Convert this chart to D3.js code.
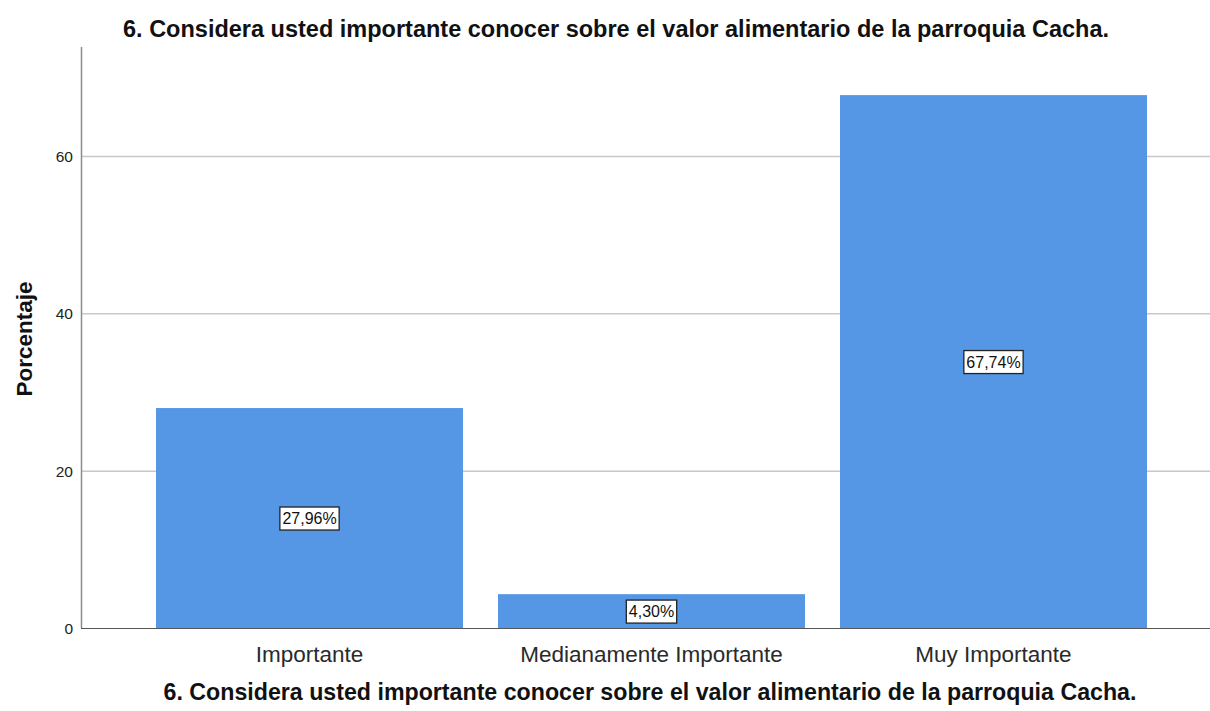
<!DOCTYPE html>
<html>
<head>
<meta charset="utf-8">
<script src="https://cdn.jsdelivr.net/npm/d3@7"></script>
<style>
  body { margin: 0; background: #fff; }
  text { font-family: "Liberation Sans", Arial, sans-serif; }
</style>
</head>
<body>
<div id="chart"></div>
<script>
// Data
var categories = ["Importante", "Medianamente Importante", "Muy Importante"];
var percents = [27.96, 4.30, 67.74];
var percentLabels = ["27,96%", "4,30%", "67,74%"];
var yTicks = [0, 20, 40, 60];
var chartTitle = "6. Considera usted importante conocer sobre el valor alimentario de la parroquia Cacha.";

var width = 1210, height = 711;
var axisX = 81, baseY = 628, topY = 47;

var svg = d3.select("#chart").append("svg")
  .attr("width", width)
  .attr("height", height);

var y = d3.scaleLinear()
  .domain([0, 60])
  .range([baseY, 156]);

var x = d3.scaleBand()
  .domain(categories)
  .range([138.5, 1164.5])
  .paddingInner(0.1023)
  .paddingOuter(0.0512);

// gridlines
svg.append("g")
  .selectAll("line")
  .data(yTicks.filter(function(d) { return d > 0; }))
  .enter()
  .append("line")
  .attr("x1", axisX)
  .attr("x2", width)
  .attr("y1", function(d) { return y(d) + 0.5; })
  .attr("y2", function(d) { return y(d) + 0.5; })
  .attr("stroke", "#c8c8c8")
  .attr("stroke-width", 1.5);

// bars
var data = categories.map(function(c, i) {
  return { cat: c, value: percents[i], label: percentLabels[i] };
});

svg.append("g")
  .selectAll("rect")
  .data(data)
  .enter()
  .append("rect")
  .attr("x", function(d) { return x(d.cat); })
  .attr("y", function(d) { return y(d.value); })
  .attr("width", x.bandwidth())
  .attr("height", function(d) { return baseY - y(d.value); })
  .attr("fill", "#5596e5");

// y axis line
svg.append("line")
  .attr("x1", axisX + 0.5).attr("x2", axisX + 0.5)
  .attr("y1", topY).attr("y2", baseY)
  .attr("stroke", "#8c8c8c")
  .attr("stroke-width", 1.5);

// baseline
svg.append("line")
  .attr("x1", axisX).attr("x2", width)
  .attr("y1", baseY + 0.5).attr("y2", baseY + 0.5)
  .attr("stroke", "#555")
  .attr("stroke-width", 1.2);

// y tick labels
svg.append("g")
  .selectAll("text")
  .data(yTicks)
  .enter()
  .append("text")
  .attr("x", axisX - 8)
  .attr("y", function(d) { return y(d) + 6; })
  .attr("text-anchor", "end")
  .style("font-size", "15.5px")
  .attr("fill", "#222")
  .text(function(d) { return d; });

// value labels in boxes
var labels = svg.append("g")
  .selectAll("g")
  .data(data)
  .enter()
  .append("g")
  .attr("transform", function(d) {
    return "translate(" + (x(d.cat) + x.bandwidth() / 2) + "," + y(d.value / 2) + ")";
  });

labels.append("text")
  .attr("text-anchor", "middle")
  .attr("y", 6)
  .style("font-size", "16px")
  .attr("fill", "#111")
  .text(function(d) { return d.label; })
  .each(function() {
    var b = this.getBBox();
    d3.select(this.parentNode).insert("rect", "text")
      .attr("x", b.x - 2.5)
      .attr("y", -11)
      .attr("width", b.width + 5)
      .attr("height", 23)
      .attr("fill", "#fff")
      .attr("stroke", "#222")
      .attr("stroke-width", 1.3);
  });

// category labels
svg.append("g")
  .selectAll("text")
  .data(categories)
  .enter()
  .append("text")
  .attr("x", function(d) { return x(d) + x.bandwidth() / 2; })
  .attr("y", 662)
  .attr("text-anchor", "middle")
  .style("font-size", "22.5px")
  .attr("fill", "#2a2a2a")
  .text(function(d) { return d; });

// titles
svg.append("text")
  .attr("x", 616)
  .attr("y", 37)
  .attr("text-anchor", "middle")
  .style("font-size", "23.5px")
  .style("font-weight", "bold")
  .attr("fill", "#111")
  .text(chartTitle);

svg.append("text")
  .attr("x", 650)
  .attr("y", 700)
  .attr("text-anchor", "middle")
  .style("font-size", "23.2px")
  .style("font-weight", "bold")
  .attr("fill", "#111")
  .text(chartTitle);

svg.append("text")
  .attr("transform", "translate(32,339) rotate(-90)")
  .attr("text-anchor", "middle")
  .style("font-size", "22.5px")
  .style("font-weight", "bold")
  .attr("fill", "#111")
  .text("Porcentaje");
</script>
</body>
</html>
